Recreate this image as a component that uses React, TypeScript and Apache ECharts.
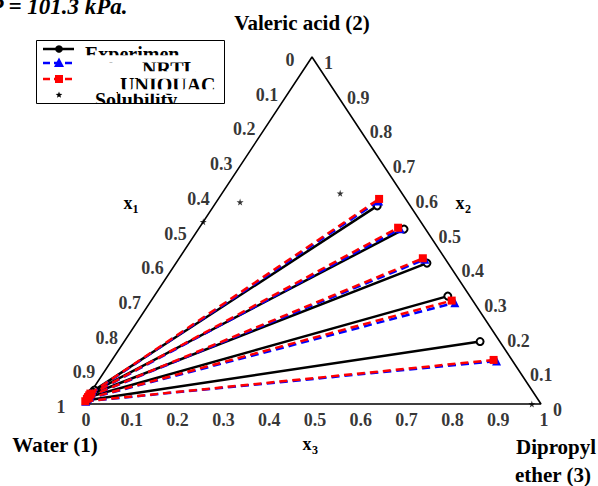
import React, { useEffect, useRef } from "react";
import * as echarts from "echarts";

// ---------- data ----------
const tickValues = [0, 0.1, 0.2, 0.3, 0.4, 0.5, 0.6, 0.7, 0.8, 0.9, 1];
const tickLabels = ["0", "0.1", "0.2", "0.3", "0.4", "0.5", "0.6", "0.7", "0.8", "0.9", "1"];

// compositions as [x1 water, x2 valeric acid, x3 dipropyl ether]
const expAqueous = [
  [0.955, 0.04, 0.005],
  [0.962, 0.034, 0.004],
  [0.968, 0.028, 0.004],
  [0.975, 0.021, 0.004],
  [0.985, 0.011, 0.004],
];
const expOrganic = [
  [0.072, 0.571, 0.357],
  [0.047, 0.504, 0.449],
  [0.046, 0.406, 0.548],
  [0.048, 0.311, 0.641],
  [0.043, 0.18, 0.777],
];
const nrtlAqueous = [
  [0.968, 0.03, 0.002],
  [0.973, 0.025, 0.002],
  [0.978, 0.02, 0.002],
  [0.983, 0.015, 0.002],
  [0.99, 0.008, 0.002],
];
const nrtlOrganic = [
  [0.062, 0.585, 0.353],
  [0.055, 0.505, 0.44],
  [0.045, 0.417, 0.538],
  [0.042, 0.292, 0.666],
  [0.035, 0.124, 0.841],
];
const uniquacAqueous = [
  [0.969, 0.03, 0.001],
  [0.974, 0.025, 0.001],
  [0.979, 0.02, 0.001],
  [0.984, 0.015, 0.001],
  [0.991, 0.008, 0.001],
];
const uniquacOrganic = [
  [0.058, 0.591, 0.351],
  [0.058, 0.508, 0.434],
  [0.048, 0.42, 0.532],
  [0.046, 0.298, 0.656],
  [0.04, 0.127, 0.833],
];
const solubility = [
  [0.366, 0.582, 0.052],
  [0.475, 0.525, 0.0],
  [0.135, 0.607, 0.258],
  [0.02, 0.0, 0.98],
];
const legendNames = ["Experimen", "NRTL", "UNIQUAC", "Solubility"];
const titleText = "P = 101.3 kPa.";
const vertexNames = ["Water (1)", "Valeric acid (2)", "Dipropyl", "ether (3)"];

// ---------- helpers ----------
const SERIF = '"Liberation Serif", "Times New Roman", serif';
const STAR = "path://M50,0 L61,35 L98,35 L68,57 L79,91 L50,70 L21,91 L32,57 L2,35 L39,35 Z";

function tern(p: number[]): [number, number] {
  const s = p[0] + p[1] + p[2];
  const x2 = p[1] / s;
  const x3 = p[2] / s;
  return [x3 + x2 / 2, x2];
}

function starPoints(cx: number, cy: number, r: number): number[][] {
  const pts: number[][] = [];
  for (let i = 0; i < 10; i++) {
    const rr = i % 2 === 0 ? r : r * 0.42;
    const a = -Math.PI / 2 + (i * Math.PI) / 5;
    pts.push([cx + rr * Math.cos(a), cy + rr * Math.sin(a)]);
  }
  return pts;
}

function txt(text: string, x: number, y: number, size: number, align: string, extra: any = {}) {
  return {
    type: "text",
    x,
    y,
    z: 50,
    style: {
      text,
      font: `${extra.italic ? "italic " : ""}bold ${size}px ${SERIF}`,
      fill: "#000",
      textAlign: align,
      align,
      textVerticalAlign: "middle",
      verticalAlign: "middle",
    },
  };
}

function tieSeries(
  name: string,
  aq: number[][],
  org: number[][],
  color: string,
  dash: any,
  symbol: string,
  symbolSize: number,
  itemStyle: any,
  z: number
) {
  return aq.map((a, i) => ({
    type: "line",
    name,
    data: [tern(a), tern(org[i])],
    symbol,
    symbolSize,
    showSymbol: true,
    clip: false,
    silent: true,
    z,
    lineStyle: { color, width: 2.5, type: dash },
    itemStyle,
  }));
}

function tickSeries(points: [number, number][], offset: number[], align: string) {
  return {
    type: "scatter",
    clip: false,
    silent: true,
    symbolSize: 0,
    itemStyle: { color: "transparent" },
    data: points.map((p, i) => ({ name: tickLabels[i], value: p })),
    label: {
      show: true,
      position: "inside",
      formatter: "{b}",
      offset,
      align,
      verticalAlign: "middle",
      color: "#000",
      fontFamily: SERIF,
      fontWeight: "bold",
      fontSize: 18,
    },
    z: 5,
  };
}

export default function App() {
  const ref = useRef<HTMLDivElement>(null);

  useEffect(() => {
    if (!ref.current) return;
    const chart = echarts.init(ref.current, null, { renderer: "svg" });

    const leftTicks = tickValues.map((v) => tern([v, 1 - v, 0]));
    const rightTicks = tickValues.map((v) => tern([0, v, 1 - v]));
    const bottomTicks = tickValues.map((v) => tern([1 - v, 0, v]));

    const graphic: any[] = [
      // title
      txt(titleText, -10.5, 6.5, 23, "left", { italic: true }),
      // vertex names
      txt(vertexNames[1], 302, 23, 21, "center"),
      txt(vertexNames[0], 55, 445, 21, "center"),
      txt(vertexNames[2], 516, 447, 21, "left"),
      txt(vertexNames[3], 515, 475, 21, "left"),
      // axis titles
      txt("x", 128, 203, 18, "center"),
      txt("1", 135.5, 209, 12, "center"),
      txt("x", 460, 203, 18, "center"),
      txt("2", 468, 209, 12, "center"),
      txt("x", 307, 444, 18, "center"),
      txt("3", 315, 450, 12, "center"),
      // legend background
      {
        type: "rect",
        z: 60,
        shape: { x: 36.5, y: 40.5, width: 188, height: 63 },
        style: { fill: "#fff", stroke: "none" },
      },
      {
        type: "line",
        z: 61,
        shape: { x1: 43, y1: 49, x2: 74, y2: 49 },
        style: { stroke: "#000", lineWidth: 2.5 },
      },
      { type: "circle", z: 62, shape: { cx: 59, cy: 49, r: 3.8 }, style: { fill: "#000" } },
      {
        type: "line",
        z: 61,
        shape: { x1: 43, y1: 63, x2: 74, y2: 63 },
        style: { stroke: "#0000ff", lineWidth: 2.5, lineDash: [7, 4] },
      },
      {
        type: "polygon",
        z: 62,
        shape: { points: [[59, 57.5], [54, 67], [64, 67]] },
        style: { fill: "#0000ff" },
      },
      {
        type: "line",
        z: 61,
        shape: { x1: 43, y1: 79, x2: 74, y2: 79 },
        style: { stroke: "#ff0000", lineWidth: 2.5, lineDash: [7, 4] },
      },
      { type: "rect", z: 62, shape: { x: 55, y: 75, width: 8, height: 8 }, style: { fill: "#ff0000" } },
      { type: "polygon", z: 62, shape: { points: starPoints(59, 95, 3.5) }, style: { fill: "#000" } },
    ];
    const legendText = [
      txt(legendNames[0], 85, 53.5, 20, "left"),
      txt(legendNames[1], 142, 68.5, 20, "left"),
      txt(legendNames[2], 120, 84.5, 20, "left"),
      txt(legendNames[3], 95, 100, 20, "left"),
    ];
    legendText.forEach((t: any) => {
      t.z = 63;
      graphic.push(t);
    });
    const covers = [
      [83, 55.3, 100, 7.2],
      [83, 62.5, 56, 8],
      [138, 71.3, 62, 7.4],
      [118, 89.3, 104, 4.5],
      [90, 103.5, 100, 14],
    ];
    covers.forEach((c) =>
      graphic.push({
        type: "rect",
        z: 64,
        shape: { x: c[0], y: c[1], width: c[2], height: c[3] },
        style: { fill: "#fff" },
      })
    );
    graphic.push({
      type: "rect",
      z: 65,
      shape: { x: 36.5, y: 40.5, width: 188, height: 63 },
      style: { fill: "none", stroke: "#000", lineWidth: 1 },
    });

    const option: any = {
      animation: false,
      backgroundColor: "#fff",
      grid: { left: 83, top: 57, width: 458, height: 347, containLabel: false },
      xAxis: { type: "value", min: 0, max: 1, show: false },
      yAxis: { type: "value", min: 0, max: 1, show: false },
      graphic,
      series: [
        {
          type: "line",
          name: "triangle",
          data: [
            [0, 0],
            [1, 0],
            [0.5, 1],
            [0, 0],
          ],
          symbol: "none",
          clip: false,
          silent: true,
          z: 1,
          lineStyle: { color: "#000", width: 1.6 },
        },
        tickSeries(leftTicks, [-22, 3], "center"),
        tickSeries(rightTicks, [12, 6], "left"),
        tickSeries(bottomTicks, [3, 16], "center"),
        ...tieSeries("Experimen", expAqueous, expOrganic, "#000", "solid", "circle", 7, {
          color: "#fff",
          borderColor: "#000",
          borderWidth: 2,
        }, 3),
        ...tieSeries("NRTL", nrtlAqueous, nrtlOrganic, "#0000ff", [8, 5], "triangle", 9, {
          color: "#0000ff",
        }, 4),
        ...tieSeries("UNIQUAC", uniquacAqueous, uniquacOrganic, "#ff0000", [8, 5], "rect", 8, {
          color: "#ff0000",
        }, 5),
        {
          type: "scatter",
          name: "Solubility",
          data: solubility.map((p) => tern(p)),
          symbol: STAR,
          symbolSize: 7,
          clip: false,
          silent: true,
          itemStyle: { color: "#000" },
          z: 6,
        },
      ],
    };
    chart.setOption(option);
    return () => chart.dispose();
  }, []);

  return (
    <div
      ref={ref}
      style={{ position: "fixed", left: 0, top: 0, width: 598, height: 486, background: "#fff" }}
    />
  );
}
